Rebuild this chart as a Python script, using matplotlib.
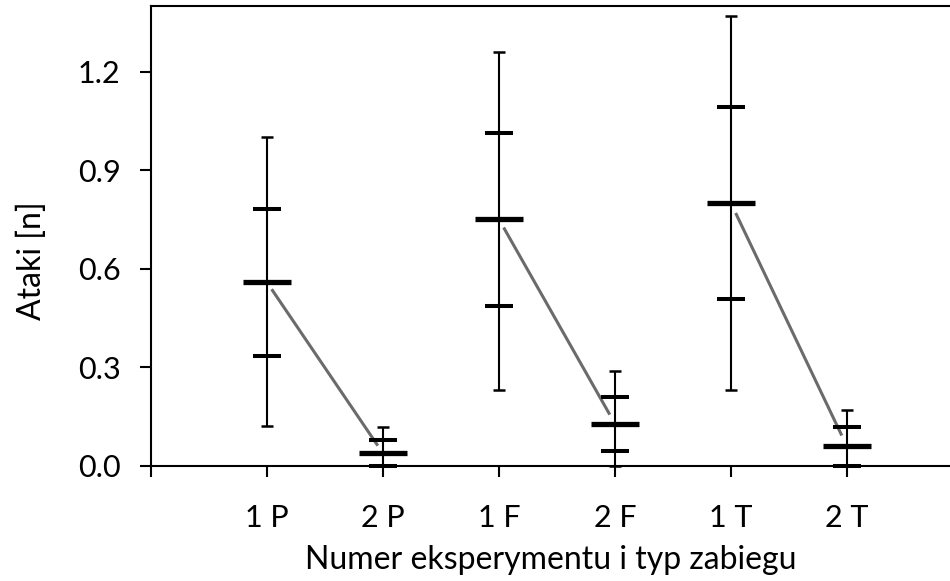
import matplotlib
matplotlib.use("Agg")
import matplotlib.pyplot as plt
import numpy as np

# Attack counts per experiment number and treatment type
categories = ["1 P", "2 P", "1 F", "2 F", "1 T", "2 T"]
means = [0.558, 0.037, 0.750, 0.127, 0.799, 0.058]
sd = [0.224, 0.042, 0.264, 0.083, 0.293, 0.059]
lows = [0.120, 0.000, 0.231, 0.000, 0.231, 0.000]
highs = [1.000, 0.116, 1.260, 0.288, 1.371, 0.168]
y_ticks = [0.0, 0.3, 0.6, 0.9, 1.2]

plt.rcParams["font.family"] = ["Lato", "DejaVu Sans"]

W, H = 950, 581
fig = plt.figure(figsize=(W / 100, H / 100), dpi=100)
left_px, top_px, bottom_px = 151, 6, 465.5
ax = fig.add_axes([left_px / W, 1 - bottom_px / H, 1 - left_px / W, (bottom_px - top_px) / H])

x = np.arange(1, len(categories) + 1)
m = np.array(means)
s = np.array(sd)
lo = np.array(lows)
hi = np.array(highs)

# range whiskers
eb = ax.errorbar(x, m, yerr=[m - lo, hi - m], fmt="none", ecolor="black",
                 elinewidth=1.5, capsize=4.3, capthick=1.8, zorder=3)
for art in list(eb.lines[1]) + list(eb.lines[2]):
    art.set_clip_on(False)

# +/- SD markers
ax.plot(x, m + s, ls="none", marker="_", ms=20, mew=2.9, color="black", zorder=4, clip_on=False)
ax.plot(x, np.clip(m - s, 0, None), ls="none", marker="_", ms=20, mew=2.9, color="black", zorder=4, clip_on=False)
# mean markers
ax.plot(x, m, ls="none", marker="_", ms=35, mew=3.8, color="black", zorder=5, clip_on=False)

# change from experiment 1 to experiment 2 for each treatment
t0, t1 = 0.04, 0.955
for i in range(0, len(categories), 2):
    j = i + 1
    xs = [x[i] + t0 * (x[j] - x[i]), x[i] + t1 * (x[j] - x[i])]
    ys = [m[i] + t0 * (m[j] - m[i]), m[i] + t1 * (m[j] - m[i])]
    ax.plot(xs, ys, color="#6b6b6b", lw=2.2, zorder=2, solid_capstyle="butt")

ax.set_xlim(0, (W - left_px) / 116)
ax.set_ylim(0, 1.4)
ax.set_xticks(np.arange(0, len(categories) + 1))
ax.set_xticklabels([""] + categories)
ax.set_yticks(y_ticks)
ax.set_yticklabels([f"{v:.1f}" for v in y_ticks])

for side in ["left", "top", "bottom"]:
    ax.spines[side].set_linewidth(1.5)
ax.spines["right"].set_visible(False)

ax.tick_params(axis="both", direction="out", length=8, width=1.5, labelsize=22, color="black")
ax.tick_params(axis="y", pad=14)
ax.tick_params(axis="x", pad=20)

ax.set_xlabel("Numer eksperymentu i typ zabiegu", fontsize=23, labelpad=9)
ax.set_ylabel("Ataki [n]", fontsize=23)
ax.yaxis.set_label_coords(-0.13, 0.445)

fig.savefig("out.png", dpi=100)
